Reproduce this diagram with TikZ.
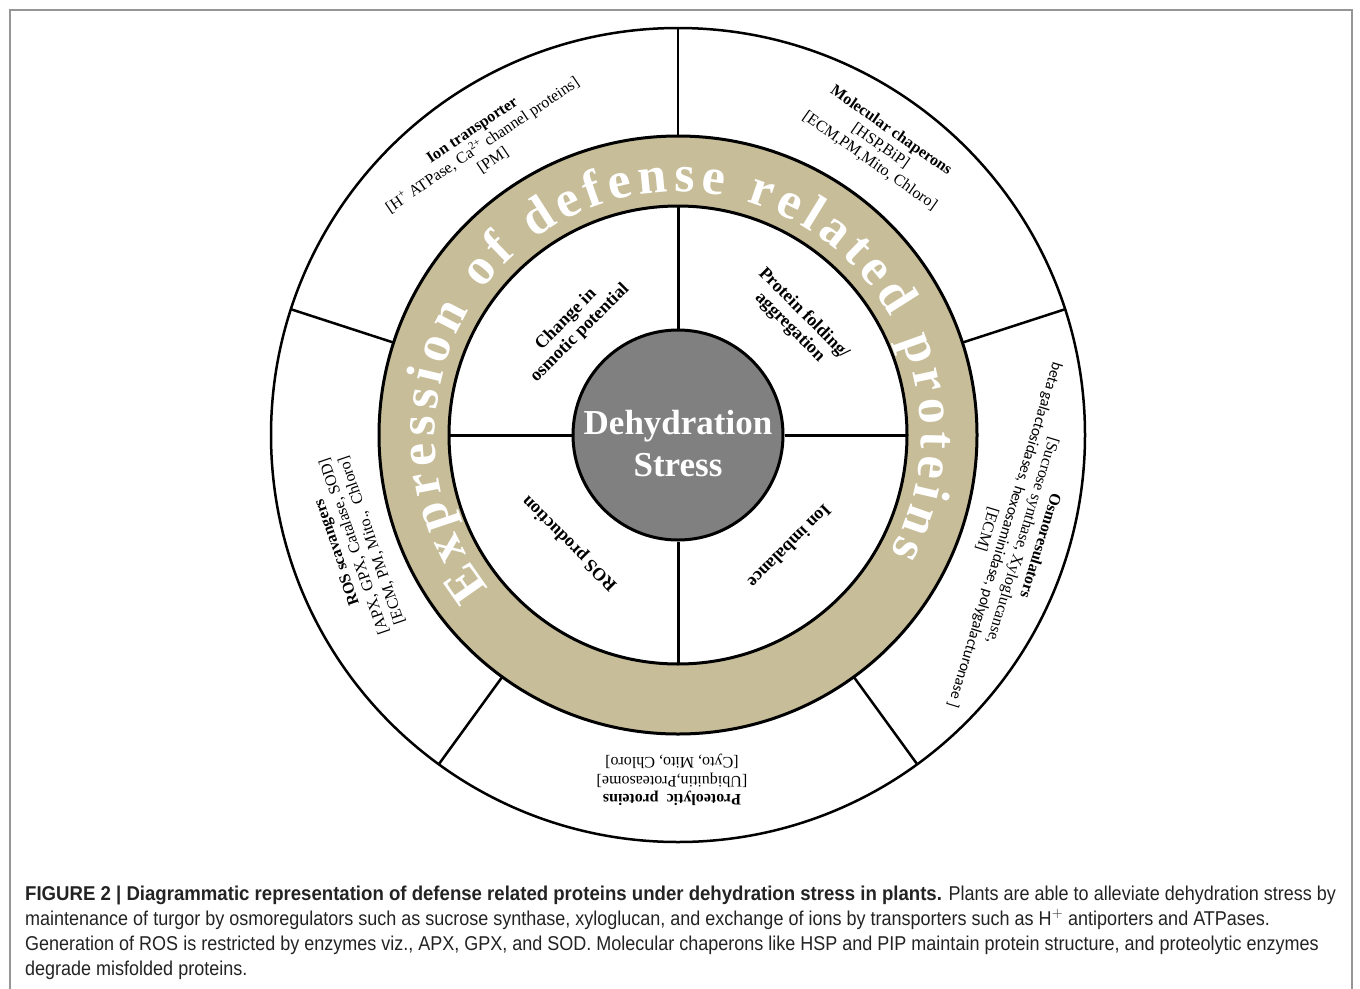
\documentclass[tikz,border=0pt]{standalone}
\usepackage{fontspec}
\setmainfont{Liberation Serif}
\newfontfamily\capfont[FakeStretch=0.9]{Liberation Sans}
\newfontfamily\capbfont[FakeStretch=0.93]{Liberation Sans}
\newfontfamily\calfont{Carlito}
\usetikzlibrary{decorations.text}
\definecolor{ringbeige}{RGB}{199,189,152}
\definecolor{coregray}{RGB}{128,128,128}
\definecolor{framegray}{RGB}{150,150,150}
\definecolor{captext}{RGB}{35,35,35}
\begin{document}
\begin{tikzpicture}[x=1pt,y=1pt,
  seclab/.style={inner sep=0pt, align=center, font=\fontsize{16}{18.5}\selectfont},
  quadlab/.style={inner sep=0pt, align=center, font=\bfseries\fontsize{18}{19.5}\selectfont},
  capline/.style={anchor=base west, inner sep=0pt, text=captext, font=\capfont\fontsize{20}{25}\selectfont},
  ringline/.style={line width=3pt},
  secline/.style={line width=2.5pt}]
\useasboundingbox (0,0) rectangle (1360,-988);
\fill[white] (0,0) rectangle (1360,-988);
\draw[framegray, line width=1.2pt] (10,-995) -- (10,-10) -- (1352,-10) -- (1352,-995);
\coordinate (C) at (678,-435);
% ring
\fill[ringbeige, even odd rule] (C) circle[radius=299pt] (C) circle[radius=229pt];
\draw[ringline] (C) circle[radius=299pt];
\draw[ringline] (C) circle[radius=229pt];
\draw[line width=2.5pt] (C) circle[radius=407pt];
% sector dividers
\foreach \a/\n in {90/a,18/b,-54/c,-126/d,162/e} {
  \coordinate (s\n i) at ([shift={(\a:299pt)}]C);
  \coordinate (s\n o) at ([shift={(\a:407pt)}]C);
  \draw[secline] (s\n i) -- (s\n o);
}
% core
\node[circle, draw, line width=3pt, fill=coregray, minimum size=210pt, inner sep=0pt] (core) at (C) {};
\foreach \a/\n in {90/north,0/east,-90/south,180/west} {
  \coordinate (q\n) at ([shift={(\a:229pt)}]C);
  \draw[ringline] (core.\n) -- (q\n);
}
\node[text=white, font=\bfseries\fontsize{35}{42}\selectfont, align=center, inner sep=0pt] (coretext) at ([yshift=-9pt]C) {Dehydration\\Stress};
% curved ring text
\path[decorate, decoration={text along path,
   text={|\bfseries\fontsize{52}{52}\selectfont|Expression of defense related proteins},
   text color=white, text align=fit to path}]
  ([shift={(219:243pt)}]C) arc[start angle=219, end angle=-29, radius=243pt];
% inner quadrant labels
\node[quadlab, rotate=45] (osmopot) at ([shift={(134:151pt)}]C) {Change in\\osmotic potential};
\node[quadlab, rotate=-45] (fold) at ([shift={(44:165pt)}]C) {Protein folding/\\aggregation};
\node[quadlab, rotate=135] (rosprod) at ([shift={(225:153pt)}]C) {ROS production};
\node[quadlab, rotate=-135] (ionimb) at ([shift={(-45:158pt)}]C) {Ion imbalance};
% outer sector labels
\node[seclab, rotate=34] (iontr) at ([shift={(124:349pt)}]C)
  {\textbf{Ion transporter}\\{[}H\textsuperscript{+} ATPase, Ca\textsuperscript{2+} channel proteins{]}\\{[}PM{]}};
\node[seclab, rotate=-35] (chap) at ([shift={(55:353pt)}]C)
  {\textbf{Molecular chaperons}\\{[}HSP,BiP{]}\\{[}ECM,PM,Mito, Chloro{]}};
\node[seclab, rotate=-107] (osmo) at ([shift={(-17:351pt)}]C)
  {\textbf{Osmoresulators}\\{[}Sucrose synthase, Xyloglucanse,\\{\calfont\fontsize{15.5}{18.5}\selectfont beta galactosidases, hexosaminidase, polygalacturonase {]}}\\{[}ECM{]}};
\node[seclab, rotate=180] (prot) at ([shift={(-91:345pt)}]C)
  {\textbf{Proteolytic\ \ proteins}\\{[}Ubiquitin,Proteasome{]}\\{[}Cyto, Mito, Chloro{]}};
\node[seclab, rotate=109] (ros) at ([shift={(199:342pt)}]C)
  {\textbf{ROS scavangers}\\{[}APX, GPX, Catalase, SOD{]}\\{[}ECM, PM, Mito.,\ \ Chloro{]}};
% caption
\node[capline] (cap1) at (25,-900) {{\capbfont\bfseries FIGURE 2 | Diagrammatic representation of defense related proteins under dehydration stress in plants.} Plants are able to alleviate dehydration stress by};
\node[capline] (cap2) at (25,-925) {maintenance of turgor by osmoregulators such as sucrose synthase, xyloglucan, and exchange of ions by transporters such as H$^{+}$ antiporters and ATPases.};
\node[capline] (cap3) at (25,-950) {Generation of ROS is restricted by enzymes viz., APX, GPX, and SOD. Molecular chaperons like HSP and PIP maintain protein structure, and proteolytic enzymes};
\node[capline] (cap4) at (25,-975) {degrade misfolded proteins.};
\end{tikzpicture}
\end{document}
